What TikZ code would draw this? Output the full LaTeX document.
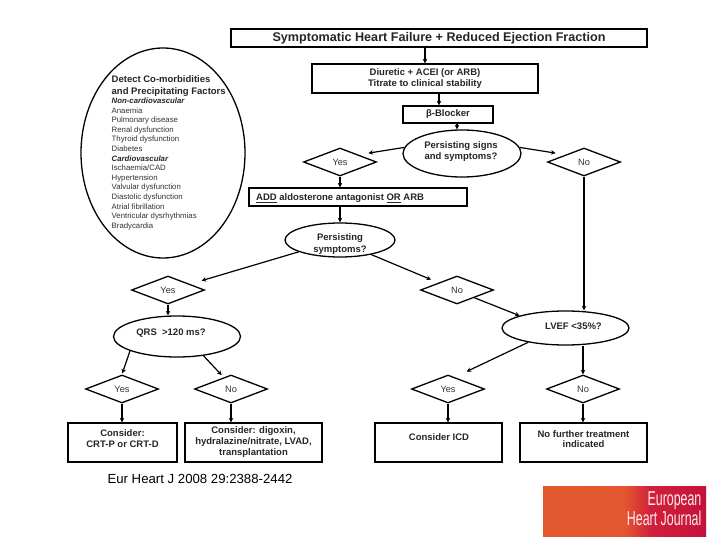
\documentclass[tikz,border=0pt]{standalone}
\usepackage{fontspec}
\setmainfont{Liberation Sans}
\usetikzlibrary{shapes.geometric,arrows.meta,shadings}
\definecolor{logoA}{HTML}{E2592F}
\definecolor{logoB}{HTML}{E4562F}
\definecolor{logoC}{HTML}{D0203C}
\definecolor{logoD}{HTML}{C4123A}
\definecolor{plain}{HTML}{333333}
\pgfdeclarehorizontalshading{logosh}{100bp}{color(0bp)=(logoA); color(25bp)=(logoA); color(50bp)=(logoB); color(58bp)=(logoC); color(75bp)=(logoD); color(100bp)=(logoD)}
\tikzset{
  boxn/.style={draw=black,line width=1.3pt,fill=white,inner sep=0pt,align=center,font=\fontsize{9.5}{11}\selectfont\bfseries,text=black!85},
  oval/.style={draw=black,line width=1.3pt,ellipse,inner sep=0pt},
  lbl/.style={inner sep=0pt,align=center,font=\fontsize{9.5}{11}\selectfont\bfseries,text=black!85},
  choice/.style={draw=black,line width=1.3pt,diamond,inner sep=0pt,minimum width=73pt,minimum height=28pt,font=\fontsize{9.2}{10}\selectfont,text=plain},
  flow/.style={line width=1.2pt,-{Stealth[length=4.5pt,width=4.5pt]}},
}
\begin{document}
\begin{tikzpicture}[x=1pt,y=-1pt]
\useasboundingbox (0,0) rectangle (720,540);
\fill[white] (0,0) rectangle (720,540);

\node[boxn,line width=1.6pt,minimum width=416pt,minimum height=18pt,font=\fontsize{12.6}{14}\selectfont\bfseries] (title) at (439,38) {Symptomatic Heart Failure + Reduced Ejection Fraction};
\node[boxn,minimum width=226pt,minimum height=29pt] (diur) at (425,78.5) {Diuretic + ACEI (or ARB)\\Titrate to clinical stability};
\node[boxn,minimum width=90pt,minimum height=17pt] (beta) at (448,114.5) {β-Blocker};
\node[oval,minimum width=118pt,minimum height=47pt] (signs) at (462,153.5) {};
\node[lbl] (signsL) at (461,151.5) {Persisting signs\\and symptoms?};
\node[choice] (yesa) at (340,162) {Yes};
\node[choice] (noa) at (584,162) {No};
\node[boxn,minimum width=218pt,minimum height=18pt] (add) at (358,197) {};
\node[lbl,anchor=west] (addL) at (256,198) {\underline{ADD} aldosterone antagonist \underline{OR} ARB};
\node[oval,minimum width=110pt,minimum height=34pt] (pers) at (340,240) {};
\node[lbl,font=\fontsize{9.5}{12.5}\selectfont\bfseries] (persL) at (340,243.8) {Persisting\\symptoms?};
\node[choice] (yesb) at (168,290) {Yes};
\node[choice] (nob) at (457,290) {No};
\node[oval,minimum width=127pt,minimum height=41pt] (qrs) at (177,336.5) {};
\node[lbl] (qrsL) at (171,333) {QRS\ \ >120 ms?};
\node[oval,minimum width=127pt,minimum height=34pt] (lvef) at (565.5,328) {};
\node[lbl] (lvefL) at (573.5,326) {LVEF <35\%?};
\node[choice] (yesc) at (122,389) {Yes};
\node[choice] (noc) at (231,389) {No};
\node[choice] (yesd) at (448,389) {Yes};
\node[choice] (nod) at (583,389) {No};
\node[boxn,minimum width=109pt,minimum height=39pt] (crt) at (122.5,442.5) {};
\node[lbl] (crtL) at (122.5,438.7) {Consider:\\CRT-P or CRT-D};
\node[boxn,minimum width=137pt,minimum height=39pt] (dig) at (253.5,442.5) {Consider: digoxin,\\hydralazine/nitrate, LVAD,\\transplantation};
\node[boxn,minimum width=127pt,minimum height=39pt] (icd) at (438.5,442.5) {};
\node[lbl] (icdL) at (439,437.5) {Consider ICD};
\node[boxn,minimum width=127pt,minimum height=39pt] (nft) at (583.5,442.5) {};
\node[lbl,font=\fontsize{9.5}{10.6}\selectfont\bfseries] (nftL) at (583.5,439) {No further treatment\\indicated};

\node[oval,minimum width=164pt,minimum height=210pt] (como) at (163,153) {};
\node[anchor=north west,inner sep=0pt,align=left,text=plain,font=\fontsize{7.8}{9.6}\selectfont] (comolist) at (111.5,75.2)
{{\fontsize{9.5}{9.6}\selectfont\bfseries\color{black!85}Detect Co-morbidities}\\[2.4pt]
{\fontsize{9.5}{9.6}\selectfont\bfseries\color{black!85}and Precipitating Factors}\\[-.8pt]
{\bfseries\itshape\color{black!85}Non-cardiovascular}\\[.4pt]
Anaemia\\Pulmonary disease\\Renal dysfunction\\Thyroid dysfunction\\Diabetes\\
{\bfseries\itshape\color{black!85}Cardiovascular}\\
Ischaemia/CAD\\Hypertension\\Valvular dysfunction\\Diastolic dysfunction\\Atrial fibrillation\\Ventricular dysrhythmias\\Bradycardia};

\coordinate (dbx) at (439,0);
\coordinate (bsx) at (457,0);
\draw[flow] (title.south -| diur) -- (diur.north);
\draw[flow] (diur.south -| dbx) -- (beta.north -| dbx);
\draw[flow] (beta.south -| bsx) -- (signs.north -| bsx);
\draw[flow,shorten >=10pt] (signs.174) -- (yesa.north east);
\draw[flow,shorten >=10pt] (signs.6) -- (noa.north west);
\draw[flow] (yesa.south) -- (add.north -| yesa);
\draw[flow] (add.south -| pers) -- (pers.north);
\draw[flow] (noa.south) -- (lvef.north -| noa);
\draw[flow,shorten >=12pt] (pers.196) -- (yesb.15);
\draw[flow,shorten >=8pt] (pers.335) -- (nob.north west);
\draw[flow] (yesb.south) -- (qrs.north -| yesb);
\draw[flow,shorten >=1pt] (qrs.197) -- (yesc.north);
\draw[flow,shorten >=3pt] (qrs.324) -- (noc.122);
\draw[flow] (yesc.south) -- (crt.north -| yesc);
\draw[flow] (noc.south) -- (dig.north -| noc);
\draw[flow] (nob.336) -- (lvef.165);
\draw[flow,shorten >=13pt] (lvef.201) -- (yesd.60);
\draw[flow] (lvef.south -| nod) -- (nod.north);
\draw[flow] (yesd.south) -- (icd.north -| yesd);
\draw[flow] (nod.south) -- (nft.north -| nod);

\node[inner sep=0pt,font=\fontsize{13.2}{15}\selectfont,text=black] (cite) at (200,478.5) {Eur Heart J 2008 29:2388-2442};

\node[inner sep=0pt,minimum width=163pt,minimum height=50pt,shading=logosh] (logo) at (624.5,511) {};
\node[anchor=north east,inner sep=0pt,align=right,text=white!92!red,xscale=.62,font=\fontsize{20}{20}\selectfont] (logotext) at (701.5,492) {European\\Heart Journal};
\end{tikzpicture}
\end{document}
